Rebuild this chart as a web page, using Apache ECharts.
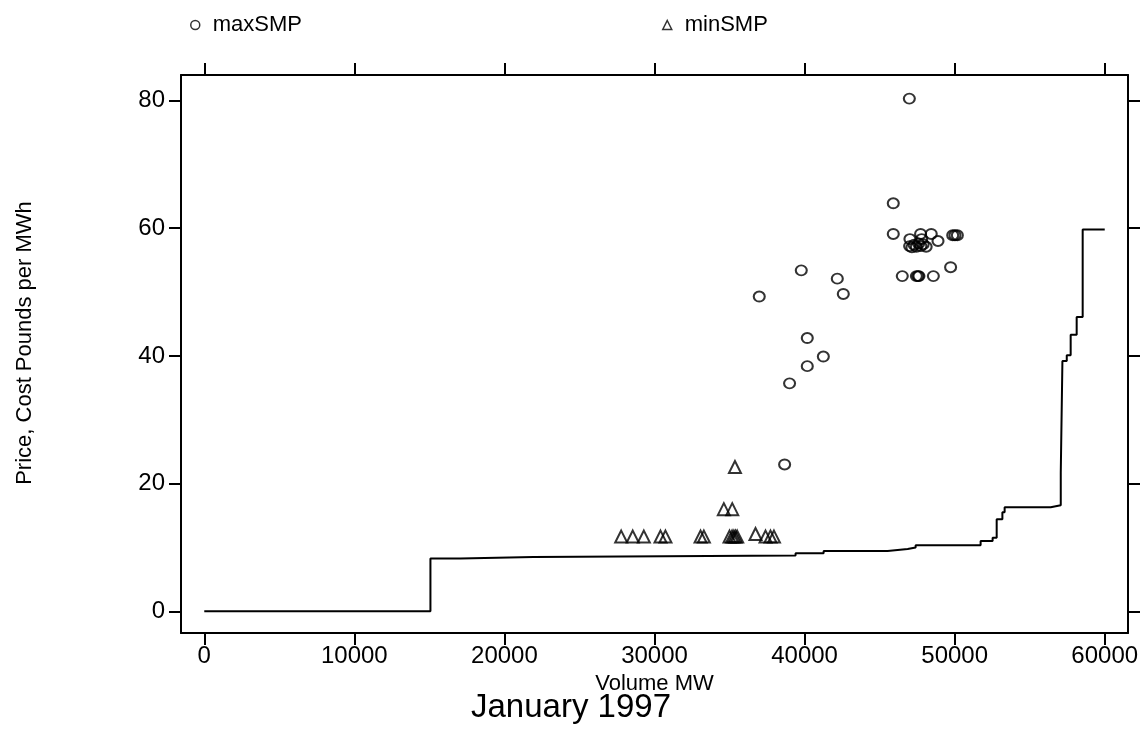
<!DOCTYPE html>
<html><head><meta charset="utf-8">
<script src="https://cdn.jsdelivr.net/npm/echarts@6/dist/echarts.min.js"></script>
<style>html,body{margin:0;padding:0;background:#fff}#c{width:1142px;height:732px}</style>
</head><body><div id="c"></div>
<script>
// tick labels
const xTicks = [0, 10000, 20000, 30000, 40000, 50000, 60000];
const yTicks = [0, 20, 40, 60, 80];

// maxSMP (volume MW, price)
const maxX = [46980, 45910, 45910, 47020, 47730, 48440, 48890, 49870, 50020, 50180, 47800,
  47000, 47150, 47300, 47450, 47600, 47750, 47900, 48100,
  49730, 46510, 47450, 47560, 47620, 48580,
  39780, 42180, 42580, 36980, 40180, 41250, 40180, 39000, 38670];
const maxY = [80.3, 63.9, 59.1, 58.3, 59.1, 59.1, 58.0, 58.9, 58.9, 58.9, 58.3,
  57.2, 57.0, 57.4, 57.1, 57.6, 57.2, 57.5, 57.1,
  53.9, 52.5, 52.5, 52.5, 52.5, 52.5,
  53.4, 52.1, 49.7, 49.3, 42.8, 39.9, 38.4, 35.7, 23.0];

// minSMP
const minX = [27780, 28550, 29290, 30400, 30730, 33070, 33290, 35000, 35170, 35290, 35400, 35510,
  36730, 37400, 37730, 37960, 34620, 35180, 35360];
const minY = [11.7, 11.7, 11.7, 11.7, 11.7, 11.7, 11.7, 11.7, 11.7, 11.7, 11.7, 11.7,
  12.1, 11.7, 11.7, 11.7, 16.0, 16.0, 22.6];

// supply (cost) step curve: value holds from x[i] to x[i+1]
const stepX = [0, 15070, 17070, 21930, 39400, 41270, 45530, 46870, 47400, 51730, 52530, 52800,
  53180, 53330, 56400, 57070, 57180, 57470, 57730, 58130, 58530, 60000];
const stepY = [0, 8.25, 8.5, 8.75, 9.1, 9.45, 9.75, 10.0, 10.33, 11.0, 11.5, 14.4,
  15.5, 16.3, 16.6, 21.7, 39.2, 40.1, 43.3, 46.1, 59.8, 59.8];

const FONT = 'Liberation Sans, Arial, Helvetica, sans-serif';
const zip = (a, b) => a.map((v, i) => [v, b[i]]);

const chart = echarts.init(document.getElementById('c'), null, {renderer: 'canvas'});
const axisLine = {show: true, onZero: false, lineStyle: {color: '#000', width: 2}};
const tick = (vals) => ({show: true, inside: false, length: 12, customValues: vals, lineStyle: {color: '#000', width: 2}});
const plain = (v) => String(v);

chart.setOption({
  backgroundColor: '#fff',
  animation: false,
  textStyle: {fontFamily: FONT, color: '#000'},
  title: {
    text: 'January 1997', left: 'center', top: 686,
    textStyle: {fontFamily: FONT, fontSize: 33, fontWeight: 'normal', color: '#000'}
  },
  legend: [
    {data: [{name: 'maxSMP', icon: 'circle', itemStyle: {color: '#fff', borderColor: '#000', borderWidth: 1.5}}],
     left: 185, top: 9, itemWidth: 9, itemHeight: 9,
     textStyle: {fontFamily: FONT, fontSize: 22, color: '#000', padding: [0, 0, 0, 8]}},
    {data: [{name: 'minSMP', icon: 'triangle', itemStyle: {color: '#fff', borderColor: '#000', borderWidth: 1.5}}],
     left: 657, top: 9, itemWidth: 9, itemHeight: 9,
     textStyle: {fontFamily: FONT, fontSize: 22, color: '#000', padding: [0, 0, 0, 8]}}
  ],
  grid: {left: 181, top: 75, width: 947, height: 558, show: false},
  xAxis: [
    {type: 'value', position: 'bottom', min: -1550, max: 61550,
     name: 'Volume MW', nameLocation: 'middle', nameGap: 36,
     nameTextStyle: {fontFamily: FONT, fontSize: 22, color: '#000'},
     axisLine: axisLine, axisTick: tick(xTicks), splitLine: {show: false},
     axisLabel: {show: true, customValues: xTicks, formatter: plain, fontFamily: FONT, fontSize: 24, color: '#000', margin: 11}},
    {type: 'value', position: 'top', min: -1550, max: 61550,
     axisLine: axisLine, axisTick: tick(xTicks), splitLine: {show: false},
     axisLabel: {show: false}}
  ],
  yAxis: [
    {type: 'value', position: 'left', min: -3.4, max: 84.0,
     name: 'Price, Cost Pounds per MWh', nameLocation: 'middle', nameGap: 145, nameRotate: 90,
     nameTextStyle: {fontFamily: FONT, fontSize: 22, color: '#000', padding: [0, 0, 0, 22]},
     axisLine: axisLine, axisTick: tick(yTicks), splitLine: {show: false},
     axisLabel: {show: true, customValues: yTicks, formatter: plain, fontFamily: FONT, fontSize: 24, color: '#000', margin: 16}},
    {type: 'value', position: 'right', min: -3.4, max: 84.0,
     axisLine: axisLine, axisTick: tick(yTicks), splitLine: {show: false},
     axisLabel: {show: false}}
  ],
  series: [
    {name: 'cost', type: 'line', step: 'end', data: zip(stepX, stepY), showSymbol: false, silent: true,
     lineStyle: {color: '#000', width: 2}, xAxisIndex: 0, yAxisIndex: 0},
    {name: 'maxSMP', type: 'scatter', data: zip(maxX, maxY), symbol: 'circle', symbolSize: [11, 10],
     itemStyle: {color: 'rgba(255,255,255,0)', borderColor: '#000', borderWidth: 2}},
    {name: 'minSMP', type: 'scatter', data: zip(minX, minY), symbol: 'triangle', symbolSize: [12, 12],
     itemStyle: {color: 'rgba(255,255,255,0)', borderColor: '#000', borderWidth: 2}}
  ]
});
</script>
</body></html>
